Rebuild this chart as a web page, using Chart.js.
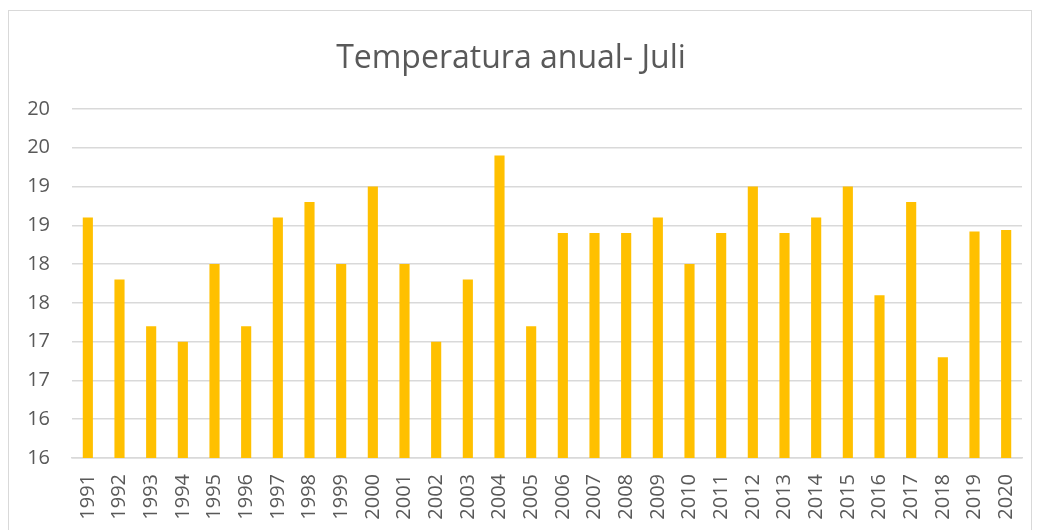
<!DOCTYPE html>
<html>
<head>
<meta charset="utf-8">
<script src="https://cdn.jsdelivr.net/npm/chart.js@4"></script>
<style>
  body { margin: 0; background: #fff; }
  #frame {
    position: absolute; left: 8px; top: 10px;
    width: 1024px; height: 540px;
    border: 1px solid #d9d9d9; box-sizing: border-box;
  }
  #wrap { position: absolute; left: 0; top: 0; width: 1038px; height: 530px; }
</style>
</head>
<body>
<div id="frame"></div>
<div id="wrap"><canvas id="chart" width="1038" height="530"></canvas></div>
<script>
const years = ['1991','1992','1993','1994','1995','1996','1997','1998','1999','2000',
  '2001','2002','2003','2004','2005','2006','2007','2008','2009','2010',
  '2011','2012','2013','2014','2015','2016','2017','2018','2019','2020']
const julyTemp = [18.7, 17.9, 17.3, 17.1, 18.1, 17.3, 18.7, 18.9, 18.1, 19.1,
  18.1, 17.1, 17.9, 19.5, 17.3, 18.5, 18.5, 18.5, 18.7, 18.1,
  18.5, 19.1, 18.5, 18.7, 19.1, 17.7, 18.9, 16.9, 18.52, 18.54]
const yTickLabels = ['16','16','17','17','18','18','19','19','20','20']

const textColor = '#595959'
const fontFamily = '"Open Sans", sans-serif'

var ctx = document.getElementById('chart')
var myChart = new Chart(ctx, {
  type: 'bar',
  data: {
    labels: years,
    datasets: [
      {
        label: 'Juli',
        data: julyTemp,
        backgroundColor: '#ffc000',
        borderWidth: 0,
        categoryPercentage: 1,
        barPercentage: 0.32,
      },
    ],
  },
  options: {
    responsive: false,
    animation: false,
    layout: { padding: { left: 0, right: 16, top: 0, bottom: 0 } },
    plugins: {
      legend: { display: false },
      tooltip: { enabled: false },
      title: {
        display: true,
        text: 'Temperatura anual- Juli',
        color: textColor,
        font: { family: fontFamily, size: 32, weight: 'normal', lineHeight: 1.2 },
        padding: { top: 40, bottom: 30.6 },
      },
    },
    scales: {
      x: {
        grid: { display: false, drawTicks: false },
        border: { color: '#d9d9d9', width: 1.5 },
        ticks: {
          color: textColor,
          font: { family: fontFamily, size: 20 },
          maxRotation: 90,
          minRotation: 90,
          autoSkip: false,
          padding: 16,
        },
        afterFit: function (scale) {
          scale.height = 72
          scale.paddingLeft = 0
          scale.paddingRight = 0
        },
      },
      y: {
        min: 15.6,
        max: 20.1,
        border: { display: false },
        grid: { color: '#d9d9d9', lineWidth: 1.5, drawTicks: false },
        ticks: {
          stepSize: 0.5,
          color: textColor,
          font: { family: fontFamily, size: 20 },
          padding: 22,
          callback: function (value, index) { return yTickLabels[index] },
        },
        afterFit: function (scale) {
          scale.width = 72
          scale.paddingTop = 0
          scale.paddingBottom = 0
        },
      },
    },
  },
})
</script>
</body>
</html>
